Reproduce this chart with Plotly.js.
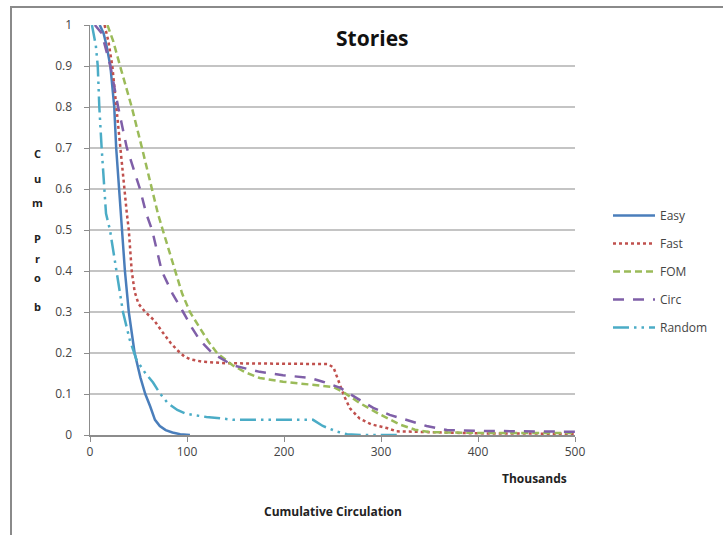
<!DOCTYPE html>
<html>
<head>
<meta charset="utf-8">
<script src="https://cdn.plot.ly/plotly-3.0.1.min.js"></script>
<style>
  html, body { margin:0; padding:0; background:#fff; }
  #chart { position:absolute; left:0; top:0; width:723px; height:535px; }
  #frame { position:absolute; left:10px; top:6px; width:713px; height:529px;
           border-top:2px solid #8a8a8a; border-left:2px solid #8a8a8a; pointer-events:none; }
</style>
</head>
<body>
<div id="chart"></div>
<div id="frame"></div>
<script>
// Data (x in thousands of cumulative circulation, y = cumulative probability)
var easyX = [10, 14, 17, 21, 25, 27, 30, 32.7, 36, 40, 46, 52, 57, 62, 67, 72, 78, 85, 93, 103];
var easyY = [1, 0.98, 0.95, 0.9, 0.8, 0.7, 0.6, 0.5, 0.4, 0.3, 0.2, 0.14, 0.1, 0.07, 0.037, 0.022, 0.012, 0.006, 0.002, 0];

var fastX = [15, 19, 23, 27, 31, 35, 38, 40, 43, 46, 50, 57, 66, 75, 83, 90, 97, 103, 115, 140, 200, 245, 251, 256, 262, 268, 278, 290, 306, 316, 400, 500];
var fastY = [1, 0.96, 0.9, 0.8, 0.7, 0.6, 0.54, 0.5, 0.4, 0.35, 0.32, 0.3, 0.28, 0.25, 0.225, 0.207, 0.192, 0.185, 0.179, 0.175, 0.174, 0.173, 0.165, 0.135, 0.095, 0.065, 0.04, 0.026, 0.017, 0.009, 0.004, 0.003];

var fomX = [18, 24, 31, 43, 53.6, 64, 70, 75, 88, 95, 103, 113, 122, 131, 140, 147, 160, 175, 199, 234, 251, 261, 278, 299, 320, 335, 350, 400, 500];
var fomY = [1, 0.96, 0.9, 0.8, 0.7, 0.6, 0.54, 0.5, 0.4, 0.345, 0.3, 0.262, 0.228, 0.2, 0.182, 0.17, 0.153, 0.139, 0.13, 0.122, 0.117, 0.105, 0.078, 0.05, 0.025, 0.013, 0.007, 0.005, 0.005];

var circX = [5, 12, 21, 29, 38, 51.5, 58, 64, 74, 85, 96, 105, 113, 126, 147, 175, 199, 227, 240, 258, 275, 292, 309, 327, 347, 368, 400, 500];
var circY = [1, 0.98, 0.9, 0.8, 0.7, 0.6, 0.54, 0.5, 0.4, 0.345, 0.3, 0.262, 0.232, 0.2, 0.17, 0.154, 0.146, 0.139, 0.13, 0.115, 0.09, 0.066, 0.049, 0.037, 0.022, 0.012, 0.01, 0.008];

var randX = [2, 6, 8, 9.6, 12, 14.4, 16.5, 20.6, 27, 34, 41, 48, 57, 65, 72, 80, 90, 98, 106, 120, 134, 147, 199, 230, 240, 255, 265, 280, 320];
var randY = [1, 0.95, 0.9, 0.8, 0.7, 0.6, 0.54, 0.5, 0.4, 0.3, 0.232, 0.183, 0.151, 0.128, 0.102, 0.078, 0.061, 0.053, 0.049, 0.044, 0.041, 0.037, 0.037, 0.037, 0.022, 0.008, 0.002, 0, 0];

var seriesNames = ["Easy", "Fast", "FOM", "Circ", "Random"];
var yTickVals = [0, 0.1, 0.2, 0.3, 0.4, 0.5, 0.6, 0.7, 0.8, 0.9, 1];
var yTickText = ["0", "0.1", "0.2", "0.3", "0.4", "0.5", "0.6", "0.7", "0.8", "0.9", "1"];
var xTickVals = [0, 100, 200, 300, 400, 500];
var xTickText = ["0", "100", "200", "300", "400", "500"];
var yTitleLetters = ["C", "u", "m", "P", "r", "o", "b"];

var styles = [
  {color: "#4a7ebb", dash: "solid"},
  {color: "#c0504d", dash: "dot"},
  {color: "#9bbb59", dash: "7px,4px"},
  {color: "#7f5fa8", dash: "11px,9px"},
  {color: "#4bacc6", dash: "16px,5px,2.5px,5px,2.5px,5px"}
];
var xs = [easyX, fastX, fomX, circX, randX];
var ys = [easyY, fastY, fomY, circY, randY];

var traces = seriesNames.map(function (n, i) {
  return {
    x: xs[i], y: ys[i], name: n, mode: "lines", type: "scatter",
    legendgroup: "g" + i,
    line: {color: styles[i].color, dash: styles[i].dash, width: 2.5, shape: "linear"},
    hoverinfo: "x+y+name"
  };
});

var font = "'Open Sans', 'Liberation Sans', sans-serif";
var letterY = [153, 178, 202, 238, 258, 277, 306];

var annotations = [
  {text: "<b>Stories</b>", xref: "paper", yref: "paper", x: (372 - 90) / 485, y: (435 - 38) / 410,
   showarrow: false, font: {family: font, size: 21, color: "#111"}, xanchor: "center", yanchor: "middle"},
  {text: "<b>Thousands</b>", xref: "paper", yref: "paper", x: (569 - 90) / 485, y: (435 - 478) / 410,
   showarrow: false, font: {family: font, size: 12, color: "#222"}, xanchor: "right", yanchor: "middle"},
  {text: "<b>Cumulative Circulation</b>", xref: "paper", yref: "paper", x: (333 - 90) / 485, y: (435 - 511) / 410,
   showarrow: false, font: {family: font, size: 12, color: "#222"}, xanchor: "center", yanchor: "middle"}
];
yTitleLetters.forEach(function (ch, i) {
  annotations.push({text: "<b>" + ch + "</b>", xref: "paper", yref: "paper",
    x: (37 - 90) / 485, y: (435 - letterY[i]) / 410, showarrow: false,
    font: {family: font, size: 11, color: "#222"}, xanchor: "center", yanchor: "middle"});
});

var layout = {
  width: 723, height: 535,
  margin: {l: 90, r: 148, t: 25, b: 100, pad: 0, autoexpand: false},
  paper_bgcolor: "#fff", plot_bgcolor: "#fff",
  showlegend: true,
  legend: {x: (608 - 90) / 485, y: (435 - 201) / 410, xanchor: "left", yanchor: "top",
           font: {family: font, size: 12, color: "#444"}, tracegroupgap: 9, itemwidth: 42,
           bgcolor: "rgba(0,0,0,0)"},
  xaxis: {range: [0, 500], tickvals: xTickVals, ticktext: xTickText, showgrid: false, zeroline: false,
          showline: true, linecolor: "#8c8c8c", linewidth: 1.5, ticks: "outside", ticklen: 5, tickcolor: "#8c8c8c",
          tickfont: {family: font, size: 12, color: "#444"}, fixedrange: true, automargin: false},
  yaxis: {range: [0, 1], tickvals: yTickVals, ticktext: yTickText, showgrid: true, gridcolor: "#c4c4c4", gridwidth: 1.5,
          zeroline: false, showline: true, linecolor: "#8c8c8c", linewidth: 1.5, ticks: "outside", ticklen: 5,
          tickcolor: "#8c8c8c", tickfont: {family: font, size: 12, color: "#444"}, fixedrange: true, automargin: false,
          ticklabelstandoff: 9},
  annotations: annotations
};

Plotly.newPlot("chart", traces, layout, {displayModeBar: false, staticPlot: true});
</script>
</body>
</html>
